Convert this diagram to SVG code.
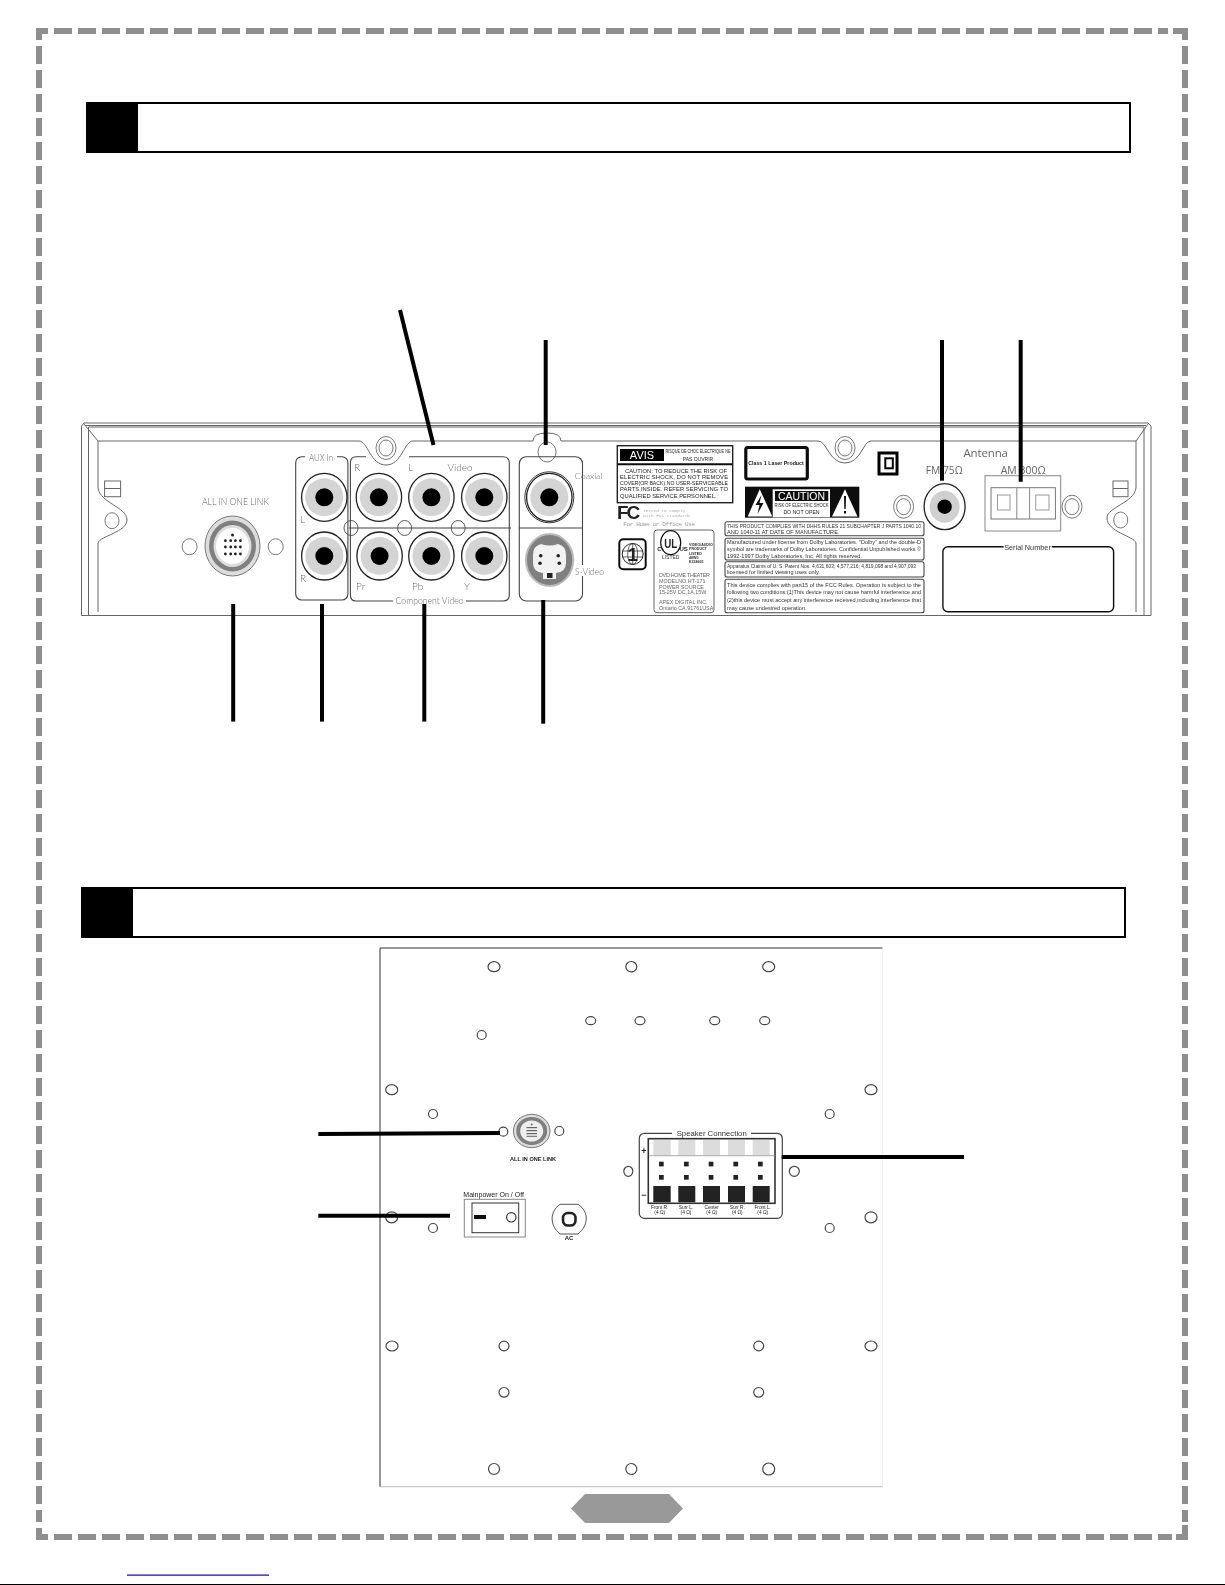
<svg xmlns="http://www.w3.org/2000/svg" width="1225" height="1585" viewBox="0 0 1225 1585">
<defs>
<style>
text{font-family:"Liberation Sans",Arial,sans-serif;fill:#222}
.lb{font-family:Lato,"Liberation Sans",sans-serif;fill:#666;font-size:10px;font-weight:300}
.m{text-anchor:middle}
.b{font-weight:bold}
.dash{fill:none;stroke:#8e8e8e;stroke-width:6;stroke-dasharray:18 6}
.cor{fill:none;stroke:#8e8e8e;stroke-width:6}
.lead{fill:none;stroke:#000;stroke-width:4}
.pl{fill:none;stroke:#666;stroke-width:1}
.box{fill:none;stroke:#444;stroke-width:1.1}
.hole{fill:#fff;stroke:#444;stroke-width:1.2}
.thin{fill:#fff;stroke:#777;stroke-width:1}
.n{font-size:5.6px;fill:#333}
.c{font-size:5.8px;fill:#222}
.u{font-size:5.4px;fill:#666}
.tiny{font-size:3.6px;font-weight:bold;fill:#333}
</style>
<filter id="soft" filterUnits="userSpaceOnUse" x="0" y="0" width="1225" height="1585"><feGaussianBlur stdDeviation="0.35"/></filter>
<g id="rca"><ellipse rx="22.7" ry="24" fill="#fff" stroke="#222" stroke-width="1.3"/><circle r="19" fill="#d4d4d4"/><circle r="9" fill="#000"/></g>
<g id="ring"><ellipse rx="10" ry="11.5" class="thin"/><ellipse rx="7" ry="8" class="thin"/></g>
</defs>
<rect width="1225" height="1585" fill="#fff"/>

<g id="page-border">
<path class="cor" d="M39 40V31H48M1173 31H1185V40M1185 1525V1537H1176M48 1537H39V1528"/>
<path class="dash" d="M54 31H1168"/>
<path class="dash" d="M54 1537H1172"/>
<path class="dash" d="M39 46V1522"/>
<path class="dash" d="M1185 46V1522"/>
</g>

<g id="section-bar-1"><rect x="87" y="103" width="1043" height="49" fill="#fff" stroke="#000" stroke-width="2"/><rect x="86" y="102" width="52" height="51" fill="#000"/></g>
<g id="section-bar-2"><rect x="82" y="888" width="1043" height="49" fill="#fff" stroke="#000" stroke-width="2"/><rect x="81" y="887" width="52" height="51" fill="#000"/></g>

<g id="photo" filter="url(#soft)">
<g id="back-panel">
<path class="pl" d="M84 423H1148L1151 426V615.5H81.5V426Z"/>
<path class="pl" d="M85 425.5H1146M88.5 427H1144M88.5 427V615M1144 427V615"/>
<path class="pl" d="M84 424L98 441M1148 424L1136 441"/>
<path class="pl" d="M98 612V543C100 536 127 532 127 520C127 507 100 503 98 488V441H359C368 441 370 465 386 465C402 465 404 441 413 441H533Q533 433 547 433Q561 433 561 441H818C827 441 829 463 845 463C861 463 863 441 871 441H1136V488C1134 503 1107 507 1107 518C1107 532 1134 536 1136 543V612"/>
<g class="pl"><rect x="104.6" y="481" width="16" height="15.7"/><path d="M104.6 488.5H120.6"/><rect x="1113" y="481" width="15" height="15.7"/><path d="M1113 488.5H1128"/></g>
<ellipse cx="112" cy="520.7" rx="7" ry="8" class="thin"/><ellipse cx="1120.7" cy="520" rx="7" ry="8" class="thin"/>
<use href="#ring" x="386" y="448"/><use href="#ring" x="845" y="448"/>
<ellipse cx="547" cy="452" rx="9" ry="10" class="thin"/>
</g>

<g id="all-in-one-link">
<text class="lb m" x="235.4" y="505" textLength="67" lengthAdjust="spacingAndGlyphs">ALL IN ONE LINK</text>
<ellipse cx="189.6" cy="546.7" rx="7.5" ry="8" class="thin"/><ellipse cx="275.7" cy="546.7" rx="7.5" ry="8" class="thin"/>
<ellipse cx="232.5" cy="546" rx="27.5" ry="30" fill="#ddd" stroke="#777"/><ellipse cx="232.5" cy="546" rx="23.5" ry="25.5" fill="#808080"/><ellipse cx="232.5" cy="546" rx="19" ry="21" fill="#ddd"/><ellipse cx="232.5" cy="546" rx="16.5" ry="18" fill="#fff"/>
<g fill="#222"><circle cx="232.5" cy="535" r="1.5"/><circle cx="225.4" cy="540.7" r="1.4"/><circle cx="230.7" cy="540.7" r="1.4"/><circle cx="235.4" cy="540.7" r="1.4"/><circle cx="240.4" cy="540.7" r="1.4"/><circle cx="225.4" cy="547" r="1.4"/><circle cx="230.7" cy="547" r="1.4"/><circle cx="235.4" cy="547" r="1.4"/><circle cx="240.4" cy="547" r="1.4"/><circle cx="225.4" cy="554" r="1.4"/><circle cx="230.7" cy="554" r="1.4"/><circle cx="235.4" cy="554" r="1.4"/><circle cx="240.4" cy="554" r="1.4"/></g>
</g>

<g id="aux-in">
<rect class="box" x="295.7" y="456.7" width="52.2" height="143.3" rx="6"/>
<rect x="305" y="452" width="32" height="9" fill="#fff"/>
<text class="lb m" x="321" y="461" textLength="24" lengthAdjust="spacingAndGlyphs">AUX In</text>
<use href="#rca" x="324.3" y="497.3"/><use href="#rca" x="324.3" y="556"/>
<text class="lb" x="300" y="523">L</text><text class="lb" x="300" y="581.5">R</text>
</g>

<g id="video-outputs">
<path class="box" d="M409 456.7H503Q509.3 456.7 509.3 463V595Q509.3 601 503 601H356Q350.4 601 350.4 595V463Q350.4 456.7 356 456.7H366"/>
<path class="box" d="M349 528H511M519 528H582.5"/>
<ellipse cx="351" cy="528" rx="7" ry="7.5" fill="none" stroke="#555"/><ellipse cx="404.6" cy="528" rx="7" ry="7.5" fill="none" stroke="#555"/><ellipse cx="458.2" cy="528" rx="7" ry="7.5" fill="none" stroke="#555"/>
<use href="#rca" x="378.9" y="497.3"/><use href="#rca" x="431.4" y="497.3"/><use href="#rca" x="484.3" y="497.3"/>
<use href="#rca" x="379.6" y="556"/><use href="#rca" x="431.4" y="556"/><use href="#rca" x="484.3" y="556"/>
<text class="lb" x="354" y="471">R</text><text class="lb" x="408" y="471">L</text><text class="lb m" x="460" y="471">Video</text>
<text class="lb" x="356" y="590">Pr</text><text class="lb" x="412" y="590">Pb</text><text class="lb" x="464" y="590">Y</text>
<rect x="393" y="596" width="73" height="9" fill="#fff"/>
<text class="lb m" x="429.6" y="604" textLength="68" lengthAdjust="spacingAndGlyphs">Component Video</text>
</g>

<g id="coaxial-svideo">
<rect class="box" x="519.3" y="456.7" width="63.2" height="144.3" rx="7"/>
<ellipse cx="549.3" cy="497.3" rx="24.5" ry="25.5" fill="#fff" stroke="#333"/>
<use href="#rca" x="549.3" y="497.3"/>
<text class="lb m" x="588.6" y="479" textLength="27.5" lengthAdjust="spacingAndGlyphs" style="font-size:8px">Coaxial</text>
<rect x="575" y="565" width="30" height="11" fill="#fff"/>
<ellipse cx="549.6" cy="560" rx="23.6" ry="26" fill="#808080" stroke="#bbb" stroke-width="2"/>
<path d="M533 555Q533 546 541 544Q549.6 547 558 544Q566 546 566 555V563Q566 572 556 573V579H543V573Q533 572 533 563Z" fill="#f2f2f2"/>
<g fill="#222"><circle cx="540.7" cy="555.7" r="1.8"/><circle cx="558.2" cy="555.7" r="1.8"/><circle cx="540" cy="563.3" r="1.8"/><circle cx="559.3" cy="563.3" r="1.8"/><rect x="547" y="573" width="5.5" height="5"/></g>
<text class="lb m" x="589.6" y="574.5" textLength="29" lengthAdjust="spacingAndGlyphs">S-Video</text>
</g>

<g id="avis-label">
<rect x="617.3" y="445.7" width="115.4" height="57" fill="#fff" stroke="#222" stroke-width="1.4"/>
<path d="M617.3 464.3H732.7" stroke="#111" stroke-width="2"/>
<rect x="620" y="449" width="44" height="12" fill="#000"/>
<text class="m" x="642" y="459" font-size="11" style="fill:#fff">AVIS</text>
<text class="m" x="698" y="453" font-size="5" textLength="65" lengthAdjust="spacingAndGlyphs">RISQUE DE CHOC ELECTRIQUE NE</text>
<text class="m" x="698" y="461" font-size="5">PAS OUVRIR</text>
<text class="c" x="625" y="473" textLength="102">CAUTION:    TO REDUCE  THE  RISK OF</text>
<text class="c" x="620" y="478.8" textLength="108">ELECTRIC  SHOCK,  DO  NOT  REMOVE</text>
<text class="c" x="620" y="485" textLength="108" lengthAdjust="spacingAndGlyphs">COVER(OR BACK).NO USER-SERVICEABLE</text>
<text class="c" x="620" y="491.2" textLength="108">PARTS  INSIDE.  REFER  SERVICING  TO</text>
<text class="c" x="620" y="497.5">QUALIFIED SERVICE PERSONNEL.</text>
</g>

<g id="class1-label">
<rect x="745.8" y="447.5" width="61.5" height="31.5" rx="2" fill="#fff" stroke="#111" stroke-width="3.2"/>
<text class="m b" x="776" y="464.5" font-size="5.3">Class 1 Laser Product</text>
</g>

<g id="caution-label">
<rect x="745" y="486.7" width="114.3" height="31" fill="#111"/>
<path d="M759.7 489.3L772.3 516.5H747.7Z" fill="#fff"/><path d="M832 516.5L845 489.3L857.5 516.5Z" fill="#fff"/>
<path d="M761.5 495L755.5 505H759.5L757.5 514L763.5 503H759.5Z" fill="#111"/>
<path d="M844 496H846L845.7 509H844.3Z" fill="#111"/><rect x="844" y="511" width="2" height="2.5" fill="#111"/>
<rect x="772.7" y="489.3" width="57.3" height="28" fill="#fff"/>
<rect x="775" y="491" width="53.3" height="10" fill="#111"/>
<text class="m" x="801.5" y="500" font-size="10" style="fill:#fff" textLength="47" lengthAdjust="spacingAndGlyphs">CAUTION</text>
<text class="m" x="801.5" y="507" font-size="5" textLength="54" lengthAdjust="spacingAndGlyphs">RISK OF ELECTRIC SHOCK</text>
<text class="m" x="801.5" y="514" font-size="5.2">DO NOT OPEN</text>
</g>

<g id="fcc-label">
<text class="b" x="617" y="519" font-size="19" letter-spacing="-2.2">FC</text>
<text x="643" y="511.7" font-size="4.4" style="fill:#aaa;font-family:'Liberation Mono',monospace">Tested To Comply</text>
<text x="643" y="516.7" font-size="4.4" style="fill:#aaa;font-family:'Liberation Mono',monospace">With FCC Standards</text>
<text x="623.3" y="526" font-size="6" textLength="71.7" style="fill:#999;font-family:'Liberation Mono',monospace">For Home or Office Use</text>
</g>

<g id="region-logo">
<rect x="619.3" y="539.3" width="26.4" height="30" rx="4" fill="#fff" stroke="#111" stroke-width="2"/>
<circle cx="632.7" cy="554" r="10.5" fill="none" stroke="#222"/>
<ellipse cx="632.7" cy="554" rx="5" ry="10.5" fill="none" stroke="#222" stroke-width=".7"/>
<path d="M622.5 551H643M622.5 557H643M632.7 543.5V564.5" stroke="#222" stroke-width=".7"/>
<text class="m b" x="632.7" y="561" font-size="19">1</text>
</g>

<g id="ul-label">
<rect x="654" y="530" width="60" height="82.7" rx="3" fill="#fff" stroke="#666"/>
<ellipse cx="670.7" cy="542.7" rx="10" ry="12" fill="none" stroke="#111" stroke-width="1.2"/>
<text class="m b" x="670.7" y="548" font-size="13" textLength="13" lengthAdjust="spacingAndGlyphs">UL</text>
<text class="m b" x="659.3" y="551" font-size="6">C</text><text class="m b" x="683.7" y="551" font-size="6">US</text>
<text class="m" x="670.7" y="559" font-size="5" style="fill:#333">LISTED</text>
<text class="tiny" x="689" y="546">VIDEO/AUDIO</text><text class="tiny" x="689" y="550.3">PRODUCT</text><text class="tiny" x="689" y="554.5">LISTED</text><text class="tiny" x="689" y="558.7">48W0</text><text class="tiny" x="689" y="563">E224665</text>
<text class="u" x="659" y="577" textLength="51">DVD HOME THEATER</text>
<text class="u" x="659" y="583">MODELNO.HT-171</text>
<text class="u" x="659" y="588.7">POWER SOURCE</text>
<text class="u" x="659" y="594.4">15-25V DC,1A,15W</text>
<text class="u" x="659" y="604">APEX DIGITAL INC.</text>
<text class="u" x="659" y="609.7">Ontario CA.91761USA</text>
</g>

<g id="notices">
<rect class="box" x="725" y="521.7" width="199" height="14" rx="2"/>
<rect class="box" x="725" y="538.3" width="199" height="21.7" rx="2"/>
<rect class="box" x="725" y="561.7" width="199" height="15.3" rx="2"/>
<rect class="box" x="725" y="579.3" width="199" height="33.4" rx="2"/>
<text class="n" x="727" y="528" textLength="194" lengthAdjust="spacingAndGlyphs">THIS PRODUCT COMPLIES WITH DHHS RULES 21 SUBCHAPTER J PARTS 1040.10</text>
<text class="n" x="727" y="534">AND 1040-11 AT DATE OF MANUFACTURE.</text>
<text class="n" x="727" y="544" textLength="194" lengthAdjust="spacingAndGlyphs">Manufactured under license from Dolby Laboratories. "Dolby" and the double-D</text>
<text class="n" x="727" y="551" textLength="194" lengthAdjust="spacingAndGlyphs">symbol are trademarks of Dolby Laboratories. Confidential Unpublished works ©</text>
<text class="n" x="727" y="558">1992-1997 Dolby Laboratories, Inc. All rights reserved.</text>
<text class="n" x="727" y="567.7" textLength="189" lengthAdjust="spacingAndGlyphs">Apparatus Claims of U. S. Patent Nos. 4,631,603; 4,577,216; 4,819,098 and 4,907,093</text>
<text class="n" x="727" y="574">licensed for limited viewing uses only.</text>
<text class="n" x="727" y="586.5" textLength="194" lengthAdjust="spacingAndGlyphs">This device complies with part15 of the FCC Rules. Operation is subject to the</text>
<text class="n" x="727" y="594" textLength="194" lengthAdjust="spacingAndGlyphs">following two conditions:(1)This device may not cause harmful interference,and</text>
<text class="n" x="727" y="601.5" textLength="194" lengthAdjust="spacingAndGlyphs">(2)this device must accept any interference received,including interference that</text>
<text class="n" x="727" y="609.5">may cause undesired operation.</text>
</g>

<g id="double-square">
<rect x="879" y="453" width="18" height="21" fill="#fff" stroke="#000" stroke-width="3"/>
<rect x="885.3" y="458.3" width="7.5" height="10" fill="#fff" stroke="#000" stroke-width="2"/>
</g>
<use href="#ring" x="903.6" y="506.7"/>
<use href="#ring" x="1072" y="506.7"/>

<g id="antenna">
<text class="m" x="985.7" y="456.5" font-size="11.5" textLength="44.6" style="fill:#666;font-family:'Open Sans','Liberation Sans',sans-serif">Antenna</text>
<text x="925.7" y="473.5" font-size="11.5" textLength="37" lengthAdjust="spacingAndGlyphs" style="fill:#666;font-family:'Open Sans','Liberation Sans',sans-serif">FM 75Ω</text>
<text x="1000.7" y="473.5" font-size="11.5" textLength="45" lengthAdjust="spacingAndGlyphs" style="fill:#666;font-family:'Open Sans','Liberation Sans',sans-serif">AM 300Ω</text>
<ellipse cx="944.6" cy="506.7" rx="20.5" ry="23" fill="#fff" stroke="#222" stroke-width="1.3"/>
<ellipse cx="944.6" cy="506.7" rx="15" ry="16" fill="#d0d0d0"/>
<circle cx="944.6" cy="506.7" r="7.2" fill="#000"/>
<rect x="985" y="475.7" width="75.7" height="55.3" fill="none" stroke="#888"/>
<rect x="991" y="487.7" width="64.4" height="31.3" fill="none" stroke="#777"/>
<path d="M1016.8 487.7V519M1029.6 487.7V519" stroke="#888" fill="none"/>
<rect x="997.5" y="495" width="12.5" height="15" fill="none" stroke="#999"/>
<rect x="1035.7" y="495" width="13.3" height="15" fill="none" stroke="#999"/>
</g>

<g id="serial-number">
<rect x="942.9" y="546.7" width="170.7" height="65" rx="5" fill="#fff" stroke="#111" stroke-width="1.4"/>
<rect x="1003.6" y="543" width="48.2" height="8" fill="#fff"/>
<text class="m" x="1027.5" y="549.5" font-size="7.3" style="fill:#333">Serial Number</text>
</g>

<g id="speaker-plate">
<path d="M380 1487V948H882.7" fill="none" stroke="#333"/>
<path d="M882.7 948V1487" fill="none" stroke="#eee"/>
<path d="M380 1486.7H882.7" fill="none" stroke="#bbb"/>
<g class="hole">
<ellipse cx="494" cy="966.7" rx="6" ry="5"/><ellipse cx="631.3" cy="966.7" rx="5.5" ry="5.2"/><ellipse cx="768.7" cy="966.7" rx="6" ry="5"/>
<ellipse cx="590.7" cy="1020.7" rx="5" ry="4"/><ellipse cx="640" cy="1020.7" rx="5" ry="4"/><ellipse cx="714.7" cy="1020.7" rx="5" ry="4"/><ellipse cx="764.7" cy="1020.7" rx="5" ry="4"/>
<circle cx="481.7" cy="1035" r="4.5"/>
<ellipse cx="391.7" cy="1089.7" rx="6" ry="5"/><ellipse cx="871" cy="1089.7" rx="6" ry="5"/>
<circle cx="433" cy="1114" r="4.5"/><circle cx="829.7" cy="1114" r="4.5"/>
<circle cx="503.3" cy="1131.7" r="4.5"/><circle cx="559.3" cy="1131" r="4.5"/>
<ellipse cx="628.3" cy="1171.3" rx="4.5" ry="5"/><ellipse cx="794.3" cy="1171.3" rx="5" ry="5"/>
<ellipse cx="391.7" cy="1217.3" rx="6" ry="5.5"/><ellipse cx="871" cy="1217.3" rx="6" ry="5.5"/>
<circle cx="433" cy="1228" r="4.5"/><circle cx="829.7" cy="1228" r="4.5"/>
<ellipse cx="392" cy="1346" rx="6" ry="5"/><ellipse cx="504" cy="1346" rx="5" ry="4.8"/><ellipse cx="758.7" cy="1346" rx="5" ry="4.8"/><ellipse cx="871" cy="1346" rx="6" ry="5"/>
<ellipse cx="504" cy="1392.3" rx="5" ry="4.8"/><ellipse cx="758.7" cy="1392.3" rx="5" ry="4.8"/>
<circle cx="494" cy="1469" r="5.5"/><circle cx="631.3" cy="1469" r="5.5"/><circle cx="768.7" cy="1469" r="6"/>
</g>
</g>

<g id="plate-link">
<ellipse cx="531.7" cy="1131" rx="18.3" ry="16.7" fill="#ddd" stroke="#777"/>
<ellipse cx="531.7" cy="1131" rx="15.5" ry="14" fill="#808080"/>
<ellipse cx="531.7" cy="1131" rx="11.5" ry="10.5" fill="#eee"/>
<g fill="#666"><circle cx="531.7" cy="1124.5" r=".9"/><rect x="526.5" y="1127" width="10.5" height="1.2"/><rect x="526.5" y="1130" width="10.5" height="1.2"/><rect x="526.5" y="1133" width="10.5" height="1.2"/><rect x="526.5" y="1135.8" width="10.5" height="1"/></g>
<text class="m b" x="533" y="1160.5" font-size="5.6" textLength="46" lengthAdjust="spacingAndGlyphs">ALL IN ONE LINK</text>
</g>

<g id="main-power">
<text x="463.3" y="1196.5" font-size="7.6" textLength="60.7" lengthAdjust="spacingAndGlyphs">Mainpower On / Off</text>
<rect x="464.3" y="1199.3" width="61" height="37.7" fill="#fff" stroke="#888"/>
<rect x="472" y="1203" width="46.7" height="29.7" fill="#fff" stroke="#333"/>
<rect x="474" y="1215" width="12" height="4" fill="#111"/>
<circle cx="511.3" cy="1217.3" r="4.7" fill="#fff" stroke="#333" stroke-width="1.2"/>
</g>

<g id="ac-inlet">
<path d="M560 1204.3H578C590 1212 588 1226 578 1234H560C550 1226 549 1212 560 1204.3Z" fill="#fff" stroke="#555"/>
<rect x="563" y="1213" width="12.5" height="12.5" rx="5" fill="#fff" stroke="#222" stroke-width="2.6"/>
<text class="m b" x="569" y="1240" font-size="6">AC</text>
</g>

<g id="speaker-connection">
<rect x="639.3" y="1133.3" width="143" height="85" rx="5" fill="#fff" stroke="#444" stroke-width="1.2"/>
<rect x="672" y="1130" width="79" height="7" fill="#fff"/>
<text class="m" x="711.7" y="1135.8" font-size="6.6" textLength="70" lengthAdjust="spacingAndGlyphs" style="fill:#333">Speaker  Connection</text>
<rect x="648.3" y="1138.7" width="126.7" height="64.6" fill="#fff" stroke="#333" stroke-width="1.6"/>
<g fill="#dcdcdc"><rect x="653.3" y="1140" width="17.4" height="15.7"/><rect x="678.3" y="1140" width="17" height="15.7"/><rect x="703" y="1140" width="17" height="15.7"/><rect x="728" y="1140" width="17" height="15.7"/><rect x="752.7" y="1140" width="17" height="15.7"/></g>
<path d="M649 1155.7H774.5" stroke="#aaa" fill="none"/>
<g fill="#222"><rect x="653.3" y="1186" width="17.4" height="16.3"/><rect x="678.3" y="1186" width="17" height="16.3"/><rect x="703" y="1186" width="17" height="16.3"/><rect x="728" y="1186" width="17" height="16.3"/><rect x="752.7" y="1186" width="17" height="16.3"/>
<rect x="659" y="1161.7" width="4.7" height="4.7"/><rect x="684" y="1161.7" width="4.7" height="4.7"/><rect x="708.7" y="1161.7" width="4.7" height="4.7"/><rect x="733.4" y="1161.7" width="4.7" height="4.7"/><rect x="758" y="1161.7" width="4.7" height="4.7"/>
<rect x="659" y="1175" width="4.7" height="4.7"/><rect x="684" y="1175" width="4.7" height="4.7"/><rect x="708.7" y="1175" width="4.7" height="4.7"/><rect x="733.4" y="1175" width="4.7" height="4.7"/><rect x="758" y="1175" width="4.7" height="4.7"/></g>
<text class="m b" x="644" y="1153.5" font-size="9">+</text><text class="m b" x="644" y="1197.5" font-size="9">−</text>
<g font-size="4.8" style="fill:#444">
<text class="m" x="659.7" y="1208.5">Front R.</text><text class="m" x="686" y="1208.5">Surr L.</text><text class="m" x="711.7" y="1208.5">Center</text><text class="m" x="737.3" y="1208.5">Surr R.</text><text class="m" x="762.7" y="1208.5">Front L.</text>
<text class="m" x="659.7" y="1214">(4 Ω)</text><text class="m" x="686" y="1214">(4 Ω)</text><text class="m" x="711.7" y="1214">(4 Ω)</text><text class="m" x="737.3" y="1214">(4 Ω)</text><text class="m" x="762.7" y="1214">(4 Ω)</text>
</g>
</g>
</g>

<g id="connectors">
<path class="lead" d="M400 310L433.5 445"/>
<path class="lead" d="M545.7 340V445"/>
<path class="lead" d="M942 340V480.7"/>
<path class="lead" d="M1020.7 340V481.7"/>
<path class="lead" d="M233.2 604V721.6"/>
<path class="lead" d="M322 604V721.6"/>
<path class="lead" d="M424.3 604V721.6"/>
<path class="lead" d="M543.2 600V723.7"/>
<path class="lead" d="M318.3 1134L500 1133"/>
<path class="lead" d="M318.3 1215.7H450"/>
<path class="lead" d="M781.7 1157H964"/>
</g>

<g id="page-tab"><path d="M571 1508.5L585 1494H669L683 1508.5L669 1523H585Z" fill="#999"/></g>
<g id="page-foot"><rect x="127" y="1574.5" width="142" height="1.2" fill="#0000d0"/><rect x="0" y="1584" width="1225" height="1" fill="#000"/></g>
</svg>
